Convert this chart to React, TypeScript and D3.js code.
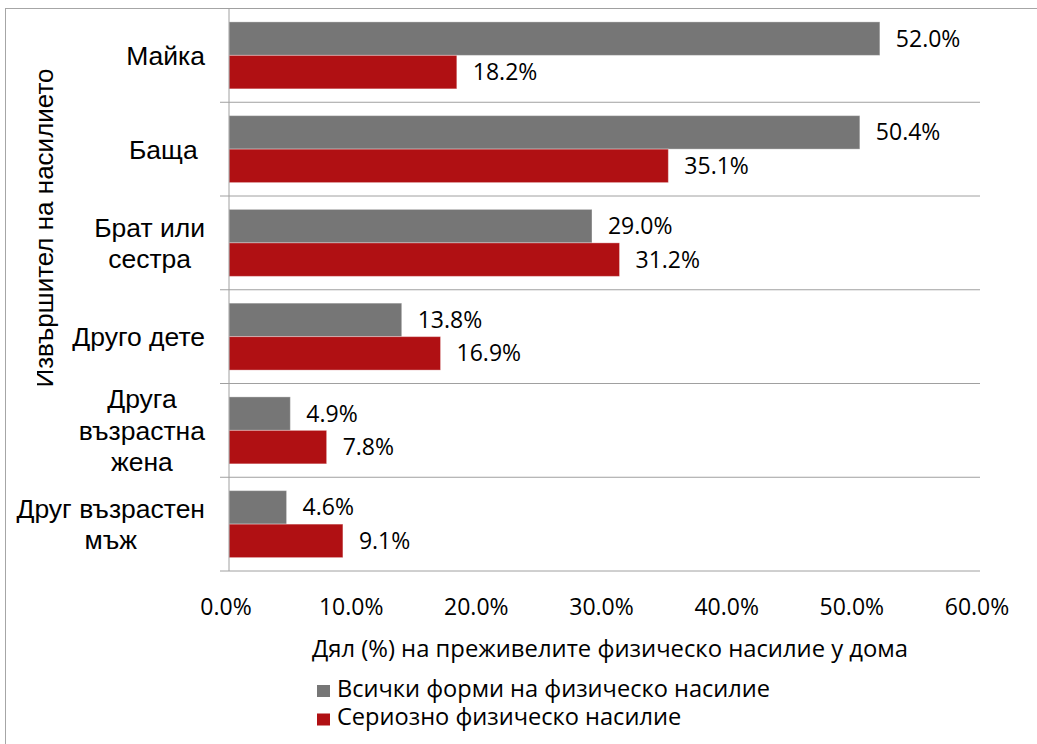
import React from 'react';
import * as d3 from 'd3';

const categoryKeys = ["Майка", "Баща", "Брат или сестра", "Друго дете", "Друга възрастна жена", "Друг възрастен мъж"];
const categoryLines = [["Майка"], ["Баща\u00a0"], ["Брат или", "сестра"], ["Друго дете"], ["Друга", "възрастна", "жена"], ["Друг възрастен", "мъж"]];
const seriesNames = ["Всички форми на физическо насилие", "Сериозно физическо насилие"];
const allForms = [52.0, 50.4, 29.0, 13.8, 4.9, 4.6];
const serious = [18.2, 35.1, 31.2, 16.9, 7.8, 9.1];
const xTicks = [0, 10, 20, 30, 40, 50, 60];
const yTitle = "Извършител на насилието";
const xTitle = "Дял (%) на преживелите физическо насилие у дома";

const colors = ["#767676", "#B01013"];
const sans = "'Liberation Sans', Arial, sans-serif";
const calib = "'Open Sans', sans-serif";

let ctx: CanvasRenderingContext2D | null = null;
function measure(text: string, font: string) {
  if (!ctx) ctx = document.createElement('canvas').getContext('2d');
  if (!ctx) return text.length * 14;
  ctx.font = font;
  return ctx.measureText(text).width;
}

export default function App() {
  const W = 1037, H = 744;
  const x = d3.scaleLinear().domain([0, 60]).range([229, 980]);
  const y = d3.scaleBand<string>().domain(categoryKeys).range([8.5, 571]).paddingInner(0).paddingOuter(0);
  const yi = d3.scaleBand<number>().domain([0, 1]).range([0, y.bandwidth()]).paddingInner(0).paddingOuter(0.4);
  const series = [allForms, serious];
  const catFont = 26.5;
  const lineH = 31.5;
  const fmt = (v: number) => v.toFixed(1) + "%";

  return (
    <svg width={W} height={H} style={{ position: 'absolute', left: 0, top: 0, background: '#fff' }}>
      <defs>
        <clipPath id="ytclip">
          <rect x={37} y={0} width={100} height={H} />
        </clipPath>
      </defs>
      <rect x={0} y={0} width={W} height={H} fill="#fff" />
      {/* chart border */}
      <rect x={5.5} y={8.5} width={1200} height={900} fill="none" stroke="#a6a6a6" strokeWidth={1} />

      {/* gridlines / separators */}
      {categoryKeys.map((k) => (
        <line key={k} x1={220} x2={980} y1={(y(k) as number)} y2={(y(k) as number)} stroke="#a0a0a0" strokeWidth={1} />
      ))}
      <line x1={220} x2={980} y1={571} y2={571} stroke="#a0a0a0" strokeWidth={1} />

      {/* bars */}
      {series.map((vals, s) =>
        vals.map((v, i) => {
          const by = (y(categoryKeys[i]) as number) + (yi(s) as number);
          return (
            <g key={s + '-' + i}>
              <rect x={x(0)} y={by} width={x(v) - x(0)} height={yi.bandwidth()} fill={colors[s]} stroke="#ffffff" strokeOpacity={0.35} strokeWidth={1} />
              <text x={x(v) + 16} y={by + yi.bandwidth() / 2 + 8} fontFamily={calib} fontSize={23} fill="#000">{fmt(v)}</text>
            </g>
          );
        })
      )}

      {/* y axis line */}
      <line x1={229} x2={229} y1={8.5} y2={571} stroke="#a0a0a0" strokeWidth={1} />

      {/* category labels */}
      {categoryLines.map((lines, i) => {
        const font = `${catFont}px ${sans}`;
        const maxW = Math.max(...lines.map(l => measure(l, font)));
        const cx = 205 - maxW / 2;
        const cy = (y(categoryKeys[i]) as number) + y.bandwidth() / 2;
        const top = cy - ((lines.length - 1) * lineH) / 2;
        return (
          <g key={i}>
            {lines.map((l, j) => (
              <text key={j} x={cx} y={top + j * lineH + catFont * 0.36} textAnchor="middle" fontFamily={sans} fontSize={catFont} fill="#000" style={{ whiteSpace: 'pre' }}>{l}</text>
            ))}
          </g>
        );
      })}

      {/* x tick labels */}
      {xTicks.map(t => (
        <text key={t} x={x(t) - 3} y={615} textAnchor="middle" fontFamily={calib} fontSize={23} fill="#000">{t.toFixed(1) + "%"}</text>
      ))}

      {/* x title */}
      <text x={610} y={657} textAnchor="middle" fontFamily={calib} fontSize={23.8} fill="#000">{xTitle}</text>

      {/* y title (clipped) */}
      <g clipPath="url(#ytclip)">
        <text transform="translate(53,228) rotate(-90)" textAnchor="middle" fontFamily={sans} fontSize={26} fill="#000">{yTitle}</text>
      </g>

      {/* legend */}
      {seriesNames.map((n, s) => (
        <g key={n}>
          <rect x={317} y={685 + s * 28.5} width={13} height={12} fill={colors[s]} />
          <text x={337} y={696.5 + s * 28.5} fontFamily={calib} fontSize={23.6} fill="#000">{n}</text>
        </g>
      ))}
    </svg>
  );
}
